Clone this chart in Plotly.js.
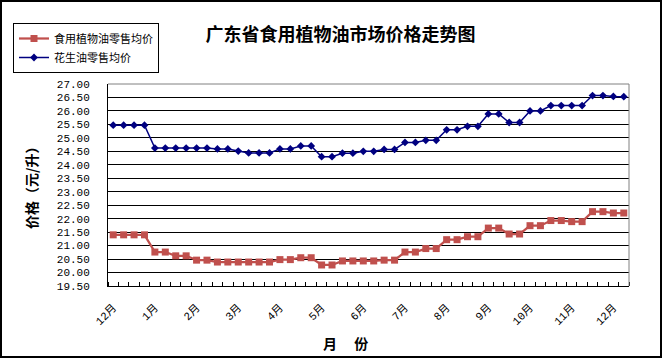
<!DOCTYPE html>
<html>
<head>
<meta charset="utf-8">
<script src="https://cdn.plot.ly/plotly-3.0.1.min.js"></script>
<style>
  html, body { margin: 0; padding: 0; background: #fff; }
  #chart { position: absolute; left: 0; top: 0; width: 658px; height: 354px; border: 2px solid #000; }
</style>
</head>
<body>
<div id="chart"></div>
<script>
// weekly observations, one label every 4 weeks
const monthLabels = ["12月","1月","2月","3月","4月","5月","6月","7月","8月","9月","10月","11月","12月"];
const labelEvery = 4;

const seriesNames = ["食用植物油零售均价", "花生油零售均价"];

const vegOil = [
  21.40, 21.40, 21.40, 21.40, 20.76, 20.76, 20.62, 20.62, 20.46, 20.46,
  20.39, 20.39, 20.39, 20.39, 20.39, 20.39, 20.48, 20.48, 20.55, 20.55,
  20.28, 20.28, 20.43, 20.43, 20.43, 20.43, 20.46, 20.46, 20.76, 20.76,
  20.89, 20.89, 21.22, 21.22, 21.33, 21.33, 21.65, 21.65, 21.43, 21.43,
  21.74, 21.74, 21.93, 21.93, 21.89, 21.89, 22.26, 22.26, 22.21, 22.21
];

const peanutOil = [
  25.47, 25.47, 25.47, 25.47, 24.62, 24.62, 24.62, 24.62, 24.62, 24.62,
  24.59, 24.59, 24.51, 24.44, 24.44, 24.44, 24.59, 24.59, 24.70, 24.70,
  24.30, 24.30, 24.43, 24.43, 24.50, 24.50, 24.57, 24.57, 24.83, 24.83,
  24.91, 24.91, 25.30, 25.30, 25.43, 25.43, 25.89, 25.89, 25.57, 25.57,
  26.00, 26.00, 26.20, 26.20, 26.20, 26.20, 26.57, 26.57, 26.54, 26.53
];

const xIdx = vegOil.map((_, i) => i);
const tickVals = monthLabels.map((_, i) => i * labelEvery);

const traces = [
  {
    x: xIdx, y: vegOil, name: seriesNames[0], type: "scatter", mode: "lines+markers",
    line: { color: "#C0504D", width: 2.25 },
    marker: { symbol: "square", size: 7, color: "#C0504D" }
  },
  {
    x: xIdx, y: peanutOil, name: seriesNames[1], type: "scatter", mode: "lines+markers",
    line: { color: "#000080", width: 1.5 },
    marker: { symbol: "diamond", size: 6, color: "#000080" }
  }
];

const layout = {
  width: 658, height: 354,
  margin: { l: 106, r: 31, t: 82, b: 70, autoexpand: false },
  paper_bgcolor: "#fff", plot_bgcolor: "#fff",
  font: { family: "Noto Sans CJK SC, sans-serif", color: "#000" },
  title: {
    text: "<b>广东省食用植物油市场价格走势图</b>",
    font: { family: "Noto Sans CJK SC", size: 18, color: "#000" },
    x: 338.5 / 658, xref: "container", xanchor: "center",
    y: 1 - 33 / 354, yref: "container", yanchor: "middle"
  },
  xaxis: {
    range: [-0.5, vegOil.length - 0.5],
    tickmode: "array", tickvals: tickVals, ticktext: monthLabels,
    tickangle: -45, ticks: "", ticklabelstandoff: 10,
    tickfont: { family: "Liberation Mono, Noto Sans CJK SC", size: 11, color: "#000" },
    minor: { tickmode: "linear", tick0: -0.5, dtick: 1, ticks: "inside", ticklen: 4, tickcolor: "#000", tickwidth: 1, showgrid: false },
    showline: true, linecolor: "#000", linewidth: 1,
    showgrid: false, zeroline: false, fixedrange: true, automargin: false
  },
  yaxis: {
    range: [19.5, 27], tickmode: "linear", tick0: 19.5, dtick: 0.5, tickformat: ".2f",
    ticks: "", ticklabelstandoff: 15,
    tickfont: { family: "Liberation Mono", size: 11, color: "#000" },
    showline: true, linecolor: "#000", linewidth: 1,
    showgrid: true, gridcolor: "#000", gridwidth: 1,
    zeroline: false, fixedrange: true, automargin: false
  },
  shapes: [
    { type: "line", xref: "paper", yref: "paper", x0: 0, x1: 1, y0: 1, y1: 1, line: { color: "#808080", width: 1 }, layer: "above" },
    { type: "line", xref: "paper", yref: "paper", x0: 1, x1: 1, y0: 0, y1: 1, line: { color: "#808080", width: 1 }, layer: "above" }
  ],
  annotations: [
    { text: "<b>价格（元/升）</b>", xref: "paper", yref: "paper", x: (29 - 106) / 521, y: 0.5,
      xanchor: "center", yanchor: "middle", textangle: -90, showarrow: false,
      font: { family: "Noto Sans CJK SC", size: 14, color: "#000" } },
    { text: "<b>月　 份</b>", xref: "paper", yref: "paper", x: (343 - 106) / 521, y: (284 - 341) / 202,
      xanchor: "center", yanchor: "middle", showarrow: false,
      font: { family: "Noto Sans CJK SC", size: 14, color: "#000" } }
  ],
  showlegend: true,
  legend: {
    xref: "container", yref: "container",
    x: 11 / 658, y: 1 - 21 / 354, xanchor: "left", yanchor: "top",
    bordercolor: "#000", borderwidth: 1, bgcolor: "#fff",
    font: { family: "Noto Sans CJK SC", size: 11, color: "#000" },
    tracegroupgap: 0, itemwidth: 30
  }
};

Plotly.newPlot("chart", traces, layout, { displayModeBar: false, staticPlot: true });
</script>
</body>
</html>
